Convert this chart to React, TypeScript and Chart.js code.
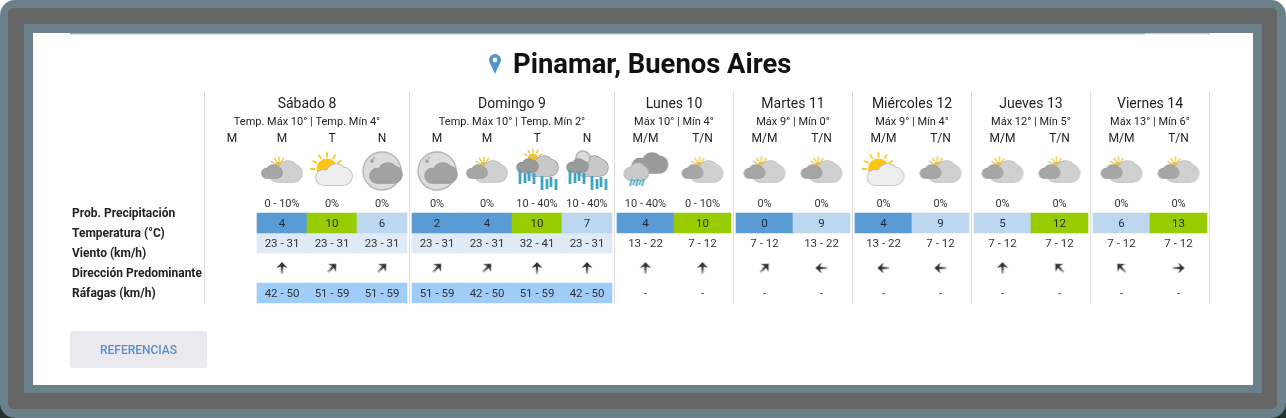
import React, { useEffect, useRef } from "react";
import { Chart, registerables } from "chart.js";

Chart.register(...registerables);

// ---------- data ----------
const title = "Pinamar, Buenos Aires";
const rowLabels = ["Prob. Precipitación", "Temperatura (°C)", "Viento (km/h)", "Dirección Predominante", "Ráfagas (km/h)"];
const days = ["Sábado 8", "Domingo 9", "Lunes 10", "Martes 11", "Miércoles 12", "Jueves 13", "Viernes 14"];
const daySummaries = [
  "Temp. Máx 10° | Temp. Mín 4°",
  "Temp. Máx 10° | Temp. Mín 2°",
  "Máx 10° | Mín 4°",
  "Máx 9° | Mín 0°",
  "Máx 9° | Mín 4°",
  "Máx 12° | Mín 5°",
  "Máx 13° | Mín 6°",
];
const dayPeriods = [
  ["M", "M", "T", "N"],
  ["M", "M", "T", "N"],
  ["M/M", "T/N"],
  ["M/M", "T/N"],
  ["M/M", "T/N"],
  ["M/M", "T/N"],
  ["M/M", "T/N"],
];
const icons = [
  null, "partly", "sun", "night",
  "night", "partly", "rainSun", "rainNight",
  "rainDark", "partly",
  "partly", "partly",
  "sun", "partly",
  "partly", "partly",
  "partly", "partly",
];
const precipitation = [
  null, "0 - 10%", "0%", "0%",
  "0%", "0%", "10 - 40%", "10 - 40%",
  "10 - 40%", "0 - 10%",
  "0%", "0%",
  "0%", "0%",
  "0%", "0%",
  "0%", "0%",
];
const temperature = [null, 4, 10, 6, 2, 4, 10, 7, 4, 10, 0, 9, 4, 9, 5, 12, 6, 13];
const wind = [
  null, "23 - 31", "23 - 31", "23 - 31",
  "23 - 31", "23 - 31", "32 - 41", "23 - 31",
  "13 - 22", "7 - 12",
  "7 - 12", "13 - 22",
  "13 - 22", "7 - 12",
  "7 - 12", "7 - 12",
  "7 - 12", "7 - 12",
];
const direction = [null, 0, 45, 45, 45, 45, 0, 0, 0, 0, 45, 270, 270, 270, 0, 315, 315, 90];
const gusts = [
  null, "42 - 50", "51 - 59", "51 - 59",
  "51 - 59", "42 - 50", "51 - 59", "42 - 50",
  "-", "-", "-", "-", "-", "-", "-", "-", "-", "-",
];
const buttonLabel = "REFERENCIAS";

// ---------- layout ----------
const W = 1286;
const H = 418;
const dayEdges = [205, 410, 615, 734, 853, 972, 1091, 1210];
const columns: { left: number; right: number; center: number; label: string }[] = [];
dayPeriods.forEach((list, d) => {
  const start = dayEdges[d] + 2;
  const end = dayEdges[d + 1] - 3;
  const cw = (end - start) / list.length;
  list.forEach((label, i) => {
    columns.push({ left: start + i * cw, right: start + (i + 1) * cw, center: start + (i + 0.5) * cw, label });
  });
});
const Y = { day: 104, summary: 122, period: 139, icon: 170, prob: 204, temp: 224, wind: 244, dir: 268, gust: 294 };
const rowLabelY = [214, 234, 254, 274, 294];
const BAR_Y = { temp: 223, wind: 243, gust: 293 };
const FONT = "Roboto, sans-serif";
const INK = "#222222";
const TEAL = "#6a818b";

const tempColor = (v: number) => (v <= 4 ? "#5b9bd5" : v < 10 ? "#bdd7ee" : "#99cc00");

// ---------- icon drawing ----------
function makeCanvas(w: number, h: number) {
  const c = document.createElement("canvas");
  c.width = w;
  c.height = h;
  return c;
}

function cloud(c: CanvasRenderingContext2D, x0: number, y0: number, x1: number, y1: number, fill: string, stroke: string) {
  const w = x1 - x0;
  const h = y1 - y0;
  const shape = () => {
    c.beginPath();
    c.arc(x0 + 0.36 * h, y1 - 0.36 * h, 0.36 * h, 0, Math.PI * 2);
    c.moveTo(x0 + 0.56 * w + 0.48 * h, y0 + 0.48 * h);
    c.arc(x0 + 0.56 * w, y0 + 0.48 * h, 0.48 * h, 0, Math.PI * 2);
    c.moveTo(x1, y1 - 0.42 * h);
    c.arc(x1 - 0.42 * h, y1 - 0.42 * h, 0.42 * h, 0, Math.PI * 2);
    c.moveTo(x0 + 0.36 * h, y1 - 0.6 * h);
    c.rect(x0 + 0.36 * h, y1 - 0.6 * h, w - 0.78 * h, 0.6 * h);
  };
  c.lineWidth = 1.6;
  c.strokeStyle = stroke;
  shape();
  c.stroke();
  c.fillStyle = fill;
  shape();
  c.fill();
}

function sun(
  c: CanvasRenderingContext2D,
  x: number,
  y: number,
  r: number,
  color: string,
  rayIn: number,
  rayOut: number,
  lw: number,
  startAngle = 180,
) {
  c.strokeStyle = color;
  c.lineWidth = lw;
  c.lineCap = "round";
  for (let a = startAngle; a <= 330; a += 30) {
    const t = (a * Math.PI) / 180;
    c.beginPath();
    c.moveTo(x + Math.cos(t) * rayIn, y + Math.sin(t) * rayIn);
    c.lineTo(x + Math.cos(t) * rayOut, y + Math.sin(t) * rayOut);
    c.stroke();
  }
  c.fillStyle = color;
  c.beginPath();
  c.arc(x, y, r, 0, Math.PI * 2);
  c.fill();
}

function rainBars(c: CanvasRenderingContext2D, x0: number, y0: number) {
  c.strokeStyle = "#3ea3c4";
  c.lineWidth = 2.8;
  c.lineCap = "butt";
  const offs = [0, 5, 9, 14];
  const tops = [0, 3, 1, 3];
  const lens = [14, 10, 10, 11];
  offs.forEach((o, i) => {
    c.beginPath();
    c.moveTo(x0 + o, y0 + tops[i]);
    c.lineTo(x0 + o, y0 + tops[i] + lens[i]);
    c.stroke();
  });
}

function makeIcon(kind: string) {
  const cv = makeCanvas(64, 52);
  const c = cv.getContext("2d")!;
  c.translate(32, 26);
  if (kind === "partly") {
    sun(c, -3, -4, 4.5, "#e8c23c", 5.5, 9, 1.3, 210);
    cloud(c, -12, -9, 20, 12, "#d0d0d0", "#bdbdbd");
    cloud(c, -20, -5, 0, 8, "#a6a6a6", "#999999");
  } else if (kind === "sun") {
    sun(c, -5, -1, 10.5, "#fbc515", 12.5, 16, 1.8);
    cloud(c, -16, -6, 20, 15, "#eeeeee", "#b8b8b8");
  } else if (kind === "night") {
    c.fillStyle = "#dcdcdc";
    c.strokeStyle = "#b4b4b4";
    c.lineWidth = 1.4;
    c.beginPath();
    c.arc(0, 1, 19, 0, Math.PI * 2);
    c.fill();
    c.stroke();
    c.fillStyle = "#a8a8a8";
    c.beginPath();
    c.arc(-10, -9, 2, 0, Math.PI * 2);
    c.arc(-8, -12, 1, 0, Math.PI * 2);
    c.fill();
    cloud(c, -12, -7, 20, 13, "#a2a2a2", "#9a9a9a");
  } else if (kind === "rainSun" || kind === "rainNight") {
    if (kind === "rainSun") {
      sun(c, -4, -11, 5.5, "#eec333", 7, 10, 1.4, 210);
    }
    cloud(c, -11, -14, 21, 6, "#c8c8c8", "#8f9fa6");
    if (kind === "rainNight") {
      c.fillStyle = "#dcdcdc";
      c.strokeStyle = "#b0b0b0";
      c.beginPath();
      c.arc(-4, -12, 7, 0, Math.PI * 2);
      c.fill();
      c.stroke();
    }
    cloud(c, -20, -11, 1, 2, "#9a9a9a", "#909090");
    rainBars(c, -17, 0);
    rainBars(c, 5, 6);
  } else if (kind === "rainDark") {
    cloud(c, -13, -17, 22, 3, "#9a9a9a", "#8f8f8f");
    cloud(c, -21, -7, 3, 10, "#c9c9c9", "#a9a9a9");
    c.strokeStyle = "#3ea3c4";
    c.lineWidth = 1.6;
    [-15, -12, -9, -6, -3].forEach((x, i) => {
      c.beginPath();
      c.moveTo(x + 1.5, 9 + (i % 2));
      c.lineTo(x - 0.5, 16 - (i % 2));
      c.stroke();
    });
  }
  return cv;
}

function makeArrow() {
  const cv = makeCanvas(16, 16);
  const c = cv.getContext("2d")!;
  const g = c.createLinearGradient(0, 2, 0, 14);
  g.addColorStop(0, "#2a2a2a");
  g.addColorStop(0.5, "#444444");
  g.addColorStop(1, "#c8c8c8");
  c.strokeStyle = g;
  c.lineWidth = 2.4;
  c.beginPath();
  c.moveTo(8, 14);
  c.lineTo(8, 4);
  c.stroke();
  c.fillStyle = "#333333";
  c.beginPath();
  c.moveTo(8, 2);
  c.lineTo(13.5, 8);
  c.lineTo(9, 6.6);
  c.lineTo(7, 6.6);
  c.lineTo(2.5, 8);
  c.closePath();
  c.fill();
  return cv;
}

// ---------- page drawing plugins ----------
const framePlugin = {
  id: "frame",
  beforeDraw(chart: any) {
    const c: CanvasRenderingContext2D = chart.ctx;
    c.save();
    c.fillStyle = "#ffffff";
    c.fillRect(0, 0, W, H);
    c.fillStyle = "#24332f";
    c.fillRect(0, H - 20, 20, 20);
    c.fillRect(W - 20, H - 20, 20, 20);
    c.fillStyle = TEAL;
    c.beginPath();
    c.roundRect(0, 0, W, H, 15);
    c.fill();
    c.fillStyle = "#666666";
    c.beginPath();
    c.roundRect(8, 8, 1269, 401, 5);
    c.fill();
    c.fillStyle = TEAL;
    c.fillRect(24, 24, 1238, 369);
    c.fillStyle = "#ffffff";
    c.fillRect(33, 33, 1220, 352);
    c.fillStyle = "#8db0c2";
    c.fillRect(70, 33, 1075, 1.3);
    c.fillStyle = "#c6ced6";
    c.fillRect(1145, 33, 65, 1.3);

    // day separators
    const { x, y } = chart.scales;
    c.strokeStyle = "#dcdcdc";
    c.lineWidth = 1;
    dayEdges.forEach((e) => {
      c.beginPath();
      c.moveTo(x.getPixelForValue(e) - 0.5, y.getPixelForValue(92));
      c.lineTo(x.getPixelForValue(e) - 0.5, y.getPixelForValue(304));
      c.stroke();
    });

    // button
    c.fillStyle = "#e9e9ef";
    c.beginPath();
    c.roundRect(70, 331, 137, 37, 3);
    c.fill();
    c.restore();
  },
};

const textPlugin = {
  id: "texts",
  afterDatasetsDraw(chart: any) {
    const c: CanvasRenderingContext2D = chart.ctx;
    const { x, y } = chart.scales;
    const put = (t: string, px: number, py: number, font: string, color = INK, align: CanvasTextAlign = "center") => {
      c.font = font;
      c.fillStyle = color;
      c.textAlign = align;
      c.textBaseline = "middle";
      c.fillText(t, x.getPixelForValue(px), y.getPixelForValue(py));
    };
    c.save();

    // title with pin
    c.fillStyle = "#4f95cf";
    c.beginPath();
    c.arc(495, 60, 6, Math.PI * 0.93, Math.PI * 0.07);
    c.lineTo(495, 74);
    c.closePath();
    c.fill();
    c.fillStyle = "#ffffff";
    c.beginPath();
    c.arc(495, 60, 2.4, 0, Math.PI * 2);
    c.fill();
    put(title, 513, 66, `bold 27.4px ${FONT}`, "#111111", "left");

    days.forEach((d, i) => {
      const cx = (dayEdges[i] + dayEdges[i + 1]) / 2 - 0.5;
      put(d, cx, Y.day, `14px ${FONT}`);
      put(daySummaries[i], cx, Y.summary, `11px ${FONT}`);
    });
    columns.forEach((col, i) => {
      put(col.label, col.center, Y.period, `12px ${FONT}`);
      if (precipitation[i] !== null) put(precipitation[i] as string, col.center, Y.prob, `11px ${FONT}`, "#333333");
      if (temperature[i] !== null) put(String(temperature[i]), col.center, Y.temp, `11.5px ${FONT}`, "#1d2b36");
      if (wind[i] !== null) put(wind[i] as string, col.center, Y.wind, `11.5px ${FONT}`, "#333333");
      if (gusts[i] !== null) put(gusts[i] as string, col.center, Y.gust, `11.5px ${FONT}`, "#333333");
    });
    rowLabels.forEach((t, i) => put(t, 72, rowLabelY[i], `bold 12px ${FONT}`, "#222222", "left"));
    put(buttonLabel, 138.5, 351, `500 12px ${FONT}`, "#5b90c6");
    c.restore();
  },
};

export default function App() {
  const ref = useRef<HTMLCanvasElement | null>(null);
  useEffect(() => {
    const iconCache: Record<string, HTMLCanvasElement> = {};
    const iconFor = (k: string) => (iconCache[k] ||= makeIcon(k));
    const arrow = makeArrow();

    const tempIdx = columns.map((_, i) => i).filter((i) => temperature[i] !== null);
    const windIdx = columns.map((_, i) => i).filter((i) => wind[i] !== null && parseInt(wind[i] as string) >= 23);
    const gustIdx = columns.map((_, i) => i).filter((i) => gusts[i] !== null && gusts[i] !== "-");
    const iconIdx = columns.map((_, i) => i).filter((i) => icons[i] !== null);
    const dirIdx = columns.map((_, i) => i).filter((i) => direction[i] !== null);

    const bar = (idx: number[], rowY: number, color: any) => ({
      type: "bar" as const,
      indexAxis: "y" as const,
      grouped: false,
      barThickness: 20,
      borderWidth: 0,
      borderSkipped: false,
      backgroundColor: color,
      data: idx.map((i) => ({ x: [columns[i].left, columns[i].right], y: rowY })),
    });

    const chart = new Chart(ref.current as HTMLCanvasElement, {
      type: "bar",
      plugins: [framePlugin, textPlugin],
      data: {
        datasets: [
          bar(tempIdx, BAR_Y.temp, tempIdx.map((i) => tempColor(temperature[i] as number))),
          bar(windIdx, BAR_Y.wind, "#deebf7"),
          bar(gustIdx, BAR_Y.gust, "#9fcdf7"),
          {
            type: "scatter" as const,
            data: iconIdx.map((i) => ({ x: columns[i].center, y: Y.icon })),
            pointStyle: (ctx: any) => iconFor(icons[iconIdx[ctx.dataIndex]] as string),
            pointRadius: 10,
          },
          {
            type: "scatter" as const,
            data: dirIdx.map((i) => ({ x: columns[i].center, y: Y.dir })),
            pointStyle: arrow,
            pointRadius: 8,
            pointRotation: dirIdx.map((i) => direction[i] as number),
          },
        ] as any,
      },
      options: {
        indexAxis: "y",
        animation: false,
        responsive: false,
        devicePixelRatio: 1,
        layout: { padding: 0, autoPadding: false },
        events: [],
        plugins: { legend: { display: false }, tooltip: { enabled: false }, title: { display: false } },
        scales: {
          x: { type: "linear", display: false, min: 0, max: W, offset: false, grid: { display: false } },
          y: { type: "linear", display: false, min: 0, max: H, reverse: true, offset: false, grid: { display: false } },
        },
      } as any,
    });
    return () => chart.destroy();
  }, []);
  return (
    <canvas
      ref={ref}
      width={W}
      height={H}
      style={{ position: "absolute", left: 0, top: 0, width: W, height: H, display: "block" }}
    />
  );
}
